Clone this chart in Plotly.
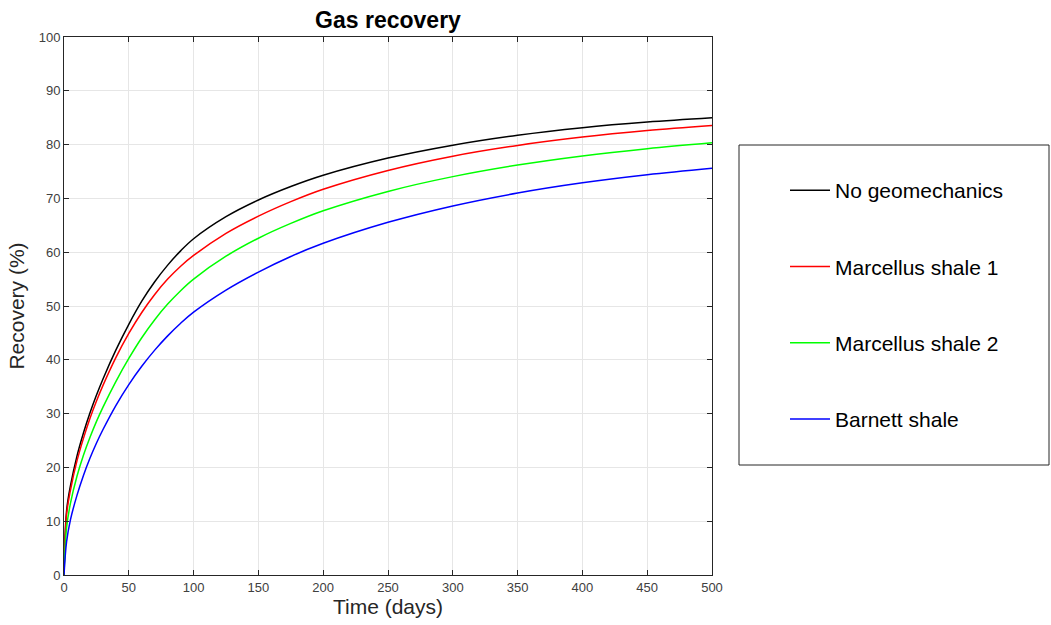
import plotly.graph_objects as go

time_days = [0, 2, 5, 10, 15, 20, 25, 30, 40, 50, 60, 70, 80, 90, 100, 125, 150, 175, 200, 250, 300, 350, 400, 450, 500]

no_geomechanics = [0, 11.95, 16.6, 22.1, 26.4, 30.1, 33.4, 36.4, 41.8, 46.6, 50.9, 54.5, 57.6, 60.25, 62.5, 66.6, 69.7, 72.2, 74.3, 77.5, 79.9, 81.75, 83.15, 84.2, 85.0]
marcellus_1 = [0, 11.3, 15.8, 21.2, 25.4, 29.1, 32.3, 35.2, 40.4, 44.9, 48.8, 52.15, 55.0, 57.4, 59.4, 63.5, 66.7, 69.4, 71.7, 75.2, 77.85, 79.85, 81.4, 82.6, 83.55]
marcellus_2 = [0, 8.85, 13.35, 18.35, 22.25, 25.55, 28.5, 31.15, 35.95, 40.25, 44.1, 47.45, 50.35, 52.85, 55.0, 59.25, 62.6, 65.35, 67.7, 71.3, 74.05, 76.2, 77.9, 79.25, 80.35]
barnett = [0, 6.2, 10.3, 14.8, 18.5, 21.7, 24.5, 27.0, 31.5, 35.4, 38.8, 41.8, 44.45, 46.8, 48.85, 52.95, 56.3, 59.2, 61.65, 65.55, 68.6, 71.0, 72.9, 74.4, 75.6]

series_names = ["No geomechanics", "Marcellus shale 1", "Marcellus shale 2", "Barnett shale"]
series_values = [no_geomechanics, marcellus_1, marcellus_2, barnett]
series_colors = ["#000000", "#ff0000", "#00ff00", "#0000ff"]

x_ticks = list(range(0, 501, 50))
y_ticks = list(range(0, 101, 10))

FONT = "Liberation Sans, Arial, sans-serif"

fig = go.Figure()
for i, (name, vals, col) in enumerate(zip(series_names, series_values, series_colors)):
    fig.add_trace(go.Scatter(
        x=time_days, y=vals, name=name, mode="lines",
        line=dict(color=col, width=1.5, shape="spline", smoothing=1.0),
        legendgroup=f"g{i}",
    ))

axis_common = dict(
    showline=True, linecolor="#262626", linewidth=1, mirror="ticks",
    ticks="inside", ticklen=5, tickcolor="#262626",
    showgrid=True, gridcolor="#e6e6e6", gridwidth=1, zeroline=False,
    tickfont=dict(family=FONT, size=13, color="#404040"),
    title_font=dict(family=FONT, size=21, color="#262626"),
)

fig.update_xaxes(range=[0, 500], tickvals=x_ticks, title_text="Time (days)", title_standoff=5, **axis_common)
fig.update_yaxes(range=[0, 100], tickvals=y_ticks, title_text="Recovery (%)", title_standoff=8, **axis_common)

# legend box
fig.add_shape(type="rect", xref="paper", yref="paper",
              x0=(739 - 64) / 648, x1=(1049 - 64) / 648,
              y0=(575 - 465) / 538, y1=(575 - 145) / 538,
              line=dict(color="#262626", width=1), fillcolor="rgba(0,0,0,0)")

fig.update_layout(
    width=1051, height=625,
    margin=dict(l=64, r=339, t=37, b=50),
    paper_bgcolor="white", plot_bgcolor="white",
    title=dict(text="<b>Gas recovery</b>", x=388 / 1051, xanchor="center", y=1 - 20 / 625, yanchor="middle",
               font=dict(family=FONT, size=23, color="#000000")),
    legend=dict(
        x=(785 - 64) / 648, y=(575 - 170) / 538, xanchor="left", yanchor="top",
        font=dict(family=FONT, size=21, color="#000000"),
        bgcolor="rgba(0,0,0,0)", borderwidth=0,
        tracegroupgap=46, traceorder="grouped", itemwidth=40,
    ),
    showlegend=True,
)

fig.write_html("out.html")
